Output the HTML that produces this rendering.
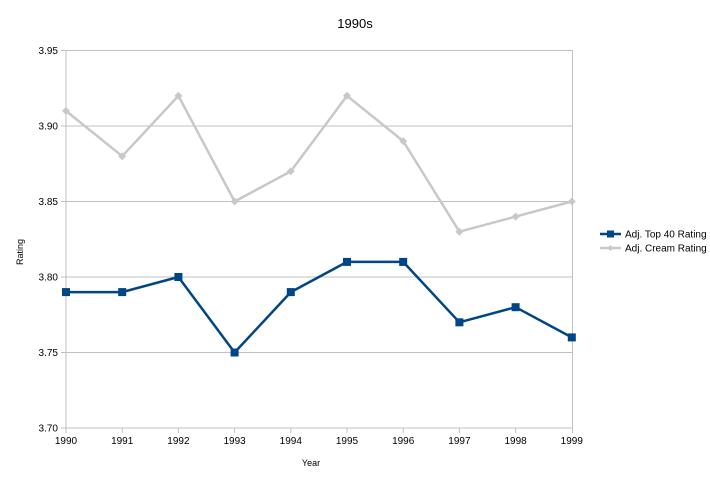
<!DOCTYPE html>
<html><head><meta charset="utf-8"><style>
html,body{margin:0;padding:0;background:#fff;}
svg{display:block;font-family:"Liberation Sans",sans-serif;}
</style></head><body>
<svg width="710" height="477" viewBox="0 0 710 477" xmlns="http://www.w3.org/2000/svg">
<rect width="710" height="477" fill="#fff"/>
<text x="355" y="28" font-size="13" text-anchor="middle" fill="#000">1990s</text>
<g stroke="#c0c0c0" stroke-width="1">
<line x1="61" y1="50.5" x2="572" y2="50.5"/>
<line x1="61" y1="126" x2="572" y2="126"/>
<line x1="61" y1="201.5" x2="572" y2="201.5"/>
<line x1="61" y1="277" x2="572" y2="277"/>
<line x1="61" y1="352.5" x2="572" y2="352.5"/>
<line x1="61" y1="428" x2="572" y2="428"/>
<line x1="66" y1="50" x2="66" y2="433"/>
<line x1="572.5" y1="50" x2="572.5" y2="433"/>
<line x1="122.2" y1="428" x2="122.2" y2="433"/>
<line x1="178.4" y1="428" x2="178.4" y2="433"/>
<line x1="234.6" y1="428" x2="234.6" y2="433"/>
<line x1="290.8" y1="428" x2="290.8" y2="433"/>
<line x1="347" y1="428" x2="347" y2="433"/>
<line x1="403.2" y1="428" x2="403.2" y2="433"/>
<line x1="459.4" y1="428" x2="459.4" y2="433"/>
<line x1="515.6" y1="428" x2="515.6" y2="433"/>
</g>
<g font-size="10" fill="#000" text-anchor="end">
<text x="58" y="54">3.95</text>
<text x="58" y="129.5">3.90</text>
<text x="58" y="205">3.85</text>
<text x="58" y="280.5">3.80</text>
<text x="58" y="356">3.75</text>
<text x="58" y="431.5">3.70</text>
</g>
<g font-size="10" fill="#000" text-anchor="middle">
<text x="66" y="444">1990</text>
<text x="122.2" y="444">1991</text>
<text x="178.4" y="444">1992</text>
<text x="234.6" y="444">1993</text>
<text x="290.8" y="444">1994</text>
<text x="347" y="444">1995</text>
<text x="403.2" y="444">1996</text>
<text x="459.4" y="444">1997</text>
<text x="515.6" y="444">1998</text>
<text x="571.8" y="444">1999</text>
</g>
<text x="311" y="466" font-size="9" text-anchor="middle" fill="#000">Year</text>
<text transform="translate(23,252) rotate(-90)" font-size="9" text-anchor="middle" fill="#000">Rating</text>
<!-- cream -->
<polyline fill="none" stroke="#c8c8c8" stroke-width="2.5" stroke-linejoin="round"
points="66,110.9 122.2,156.2 178.4,95.8 234.6,201.5 290.8,171.3 347,95.8 403.2,141.1 459.4,231.7 515.6,216.6 571.8,201.5"/>
<g fill="#c8c8c8">
<path d="M66,106.9 L70,110.9 L66,114.9 L62,110.9Z"/>
<path d="M122.2,152.2 L126.2,156.2 L122.2,160.2 L118.2,156.2Z"/>
<path d="M178.4,91.8 L182.4,95.8 L178.4,99.8 L174.4,95.8Z"/>
<path d="M234.6,197.5 L238.6,201.5 L234.6,205.5 L230.6,201.5Z"/>
<path d="M290.8,167.3 L294.8,171.3 L290.8,175.3 L286.8,171.3Z"/>
<path d="M347,91.8 L351,95.8 L347,99.8 L343,95.8Z"/>
<path d="M403.2,137.1 L407.2,141.1 L403.2,145.1 L399.2,141.1Z"/>
<path d="M459.4,227.7 L463.4,231.7 L459.4,235.7 L455.4,231.7Z"/>
<path d="M515.6,212.6 L519.6,216.6 L515.6,220.6 L511.6,216.6Z"/>
<path d="M571.8,197.5 L575.8,201.5 L571.8,205.5 L567.8,201.5Z"/>
</g>
<!-- top 40 -->
<polyline fill="none" stroke="#004586" stroke-width="2.5" stroke-linejoin="round"
points="66,292.1 122.2,292.1 178.4,277 234.6,352.5 290.8,292.1 347,261.9 403.2,261.9 459.4,322.3 515.6,307.2 571.8,337.4"/>
<g fill="#004586">
<rect x="62" y="288.1" width="8" height="8"/>
<rect x="118.2" y="288.1" width="8" height="8"/>
<rect x="174.4" y="273" width="8" height="8"/>
<rect x="230.6" y="348.5" width="8" height="8"/>
<rect x="286.8" y="288.1" width="8" height="8"/>
<rect x="343" y="257.9" width="8" height="8"/>
<rect x="399.2" y="257.9" width="8" height="8"/>
<rect x="455.4" y="318.3" width="8" height="8"/>
<rect x="511.6" y="303.2" width="8" height="8"/>
<rect x="567.8" y="333.4" width="8" height="8"/>
</g>
<!-- legend -->
<line x1="600" y1="234" x2="621" y2="234" stroke="#004586" stroke-width="2.5"/>
<rect x="607" y="230.5" width="7" height="7" fill="#004586"/>
<text x="625" y="237.5" font-size="10" fill="#000">Adj. Top 40 Rating</text>
<line x1="600" y1="248" x2="621" y2="248" stroke="#c8c8c8" stroke-width="2.5"/>
<path d="M610.5,245 L613.5,248 L610.5,251 L607.5,248Z" fill="#c8c8c8"/>
<text x="625" y="251.5" font-size="10" fill="#000">Adj. Cream Rating</text>
</svg>
</body></html>
